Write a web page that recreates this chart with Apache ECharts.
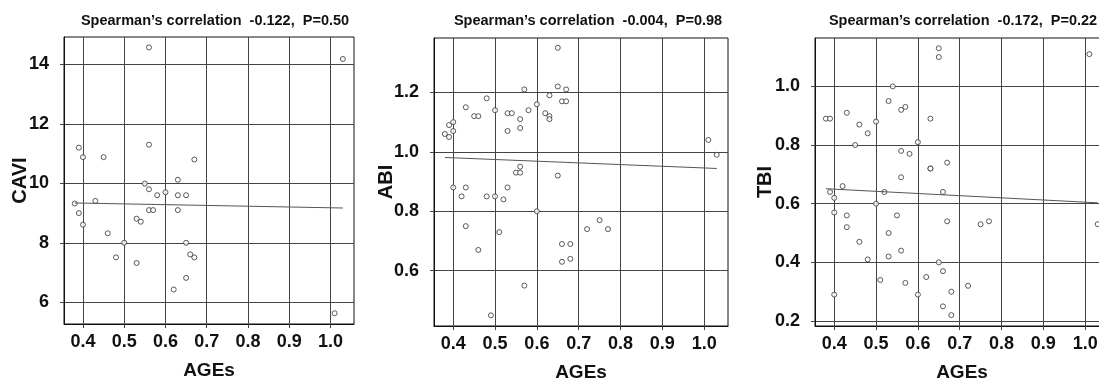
<!DOCTYPE html>
<html>
<head>
<meta charset="utf-8">
<script src="https://cdn.jsdelivr.net/npm/echarts@6/dist/echarts.min.js"></script>
<style>
  html, body { margin: 0; padding: 0; background: #fff; }
  #main { width: 1099px; height: 378px; }
</style>
</head>
<body>
<div id="main"></div>
<script>
// 三个面板的数据 (AGEs 与 CAVI / ABI / TBI)
var xTicks = [0.4, 0.5, 0.6, 0.7, 0.8, 0.9, 1.0];
var caviTicks = [6, 8, 10, 12, 14];
var abiTicks = [0.6, 0.8, 1.0, 1.2];
var tbiTicks = [0.2, 0.4, 0.6, 0.8, 1.0];

var titles = [
    "Spearman\u2019s correlation  -0.122,  P=0.50",
    "Spearman\u2019s correlation  -0.004,  P=0.98",
    "Spearman\u2019s correlation  -0.172,  P=0.22"
];
var yNames = ['CAVI', 'ABI', 'TBI'];

var cavi = [
    [0.56, 14.57], [1.03, 14.18], [0.39, 11.2], [0.40, 10.88], [0.45, 10.88],
    [0.56, 11.3], [0.67, 10.8], [0.55, 9.99], [0.56, 9.8], [0.58, 9.6],
    [0.60, 9.7], [0.63, 10.12], [0.63, 9.6], [0.65, 9.6], [0.38, 9.32],
    [0.43, 9.41], [0.39, 9.0], [0.40, 8.61], [0.56, 9.1], [0.57, 9.1],
    [0.63, 9.1], [0.53, 8.81], [0.54, 8.71], [0.46, 8.32], [0.50, 8.0],
    [0.65, 8.0], [0.48, 7.51], [0.53, 7.32], [0.66, 7.61], [0.67, 7.51],
    [0.65, 6.82], [0.62, 6.43], [1.01, 5.63]
];
var caviFit = [[0.38, 9.34], [1.03, 9.17]];

var abi = [
    [0.65, 1.35], [0.65, 1.22], [0.67, 1.21], [0.57, 1.21], [0.63, 1.19],
    [0.48, 1.18], [0.66, 1.17], [0.67, 1.17], [0.43, 1.15], [0.50, 1.14],
    [0.58, 1.14], [0.60, 1.16], [0.62, 1.13], [0.63, 1.12], [0.63, 1.11],
    [0.45, 1.12], [0.46, 1.12], [0.53, 1.13], [0.54, 1.13], [0.56, 1.11],
    [0.56, 1.08], [0.53, 1.07], [0.40, 1.10], [0.39, 1.09], [0.40, 1.07],
    [0.38, 1.06], [0.39, 1.05], [1.01, 1.04], [1.03, 0.99], [0.56, 0.95],
    [0.55, 0.93], [0.56, 0.93], [0.65, 0.92], [0.40, 0.88], [0.43, 0.88],
    [0.53, 0.88], [0.42, 0.85], [0.48, 0.85], [0.50, 0.85], [0.52, 0.84],
    [0.60, 0.80], [0.43, 0.75], [0.51, 0.73], [0.75, 0.77], [0.72, 0.74],
    [0.77, 0.74], [0.66, 0.69], [0.68, 0.69], [0.68, 0.64], [0.66, 0.63],
    [0.46, 0.67], [0.57, 0.55], [0.49, 0.45]
];
var abiFit = [[0.38, 0.981], [1.03, 0.944]];

var tbi = [
    [0.65, 1.13], [0.65, 1.10], [1.01, 1.11], [0.54, 1.00], [0.53, 0.95],
    [0.56, 0.92], [0.57, 0.93], [0.63, 0.89], [0.38, 0.89], [0.39, 0.89],
    [0.43, 0.91], [0.46, 0.87], [0.50, 0.88], [0.48, 0.84], [0.45, 0.80],
    [0.60, 0.81], [0.56, 0.78], [0.58, 0.77], [0.67, 0.74], [0.63, 0.72],
    [0.63, 0.72], [0.56, 0.69], [0.42, 0.66], [0.39, 0.64], [0.52, 0.64],
    [0.66, 0.64], [0.40, 0.62], [0.50, 0.60], [0.40, 0.57], [0.43, 0.56],
    [0.55, 0.56], [0.43, 0.52], [0.67, 0.54], [0.75, 0.53], [0.77, 0.54],
    [1.03, 0.53], [0.53, 0.50], [0.46, 0.47], [0.56, 0.44], [0.53, 0.42],
    [0.48, 0.41], [0.65, 0.40], [0.66, 0.37], [0.51, 0.34], [0.62, 0.35],
    [0.57, 0.33], [0.72, 0.32], [0.40, 0.29], [0.60, 0.29], [0.68, 0.30],
    [0.66, 0.25], [0.68, 0.22]
];
var tbiFit = [[0.38, 0.651], [1.03, 0.603]];

var font = '"Liberation Sans", Arial, sans-serif';
var gridColor = '#444';

var grids = [
    {left: 64, right: 745, top: 37, bottom: 54},
    {left: 434, right: 371, top: 38, bottom: 52},
    {left: 815, right: -10, top: 38, bottom: 52}
];
var yRanges = [[5.27, 14.92], [0.414, 1.383], [0.183, 1.165]];
var yTickSets = [caviTicks, abiTicks, tbiTicks];
var yGaps = [34, 38, 40];

function makeX(i) {
    return {
        type: 'value',
        gridIndex: i,
        min: 0.354,
        max: 1.057,
        name: 'AGEs',
        nameLocation: 'middle',
        nameGap: 37,
        nameTextStyle: {fontFamily: font, fontWeight: 'bold', fontSize: 19, color: '#111'},
        axisLine: {show: true, lineStyle: {color: '#111', width: 1}},
        axisTick: {show: true, length: 4, customValues: xTicks, lineStyle: {color: gridColor}},
        axisLabel: {
            customValues: xTicks,
            fontFamily: font, fontWeight: 'bold', fontSize: 18, color: '#111', margin: 9,
            formatter: function (v) { return v.toFixed(1); }
        },
        splitLine: {show: true, lineStyle: {color: gridColor, width: 1}}
    };
}

function makeY(i) {
    return {
        type: 'value',
        gridIndex: i,
        min: yRanges[i][0],
        max: yRanges[i][1],
        name: yNames[i],
        nameLocation: 'middle',
        nameGap: yGaps[i],
        nameRotate: 90,
        nameMoveOverlap: false,
        nameTextStyle: {fontFamily: font, fontWeight: 'bold', fontSize: 20, color: '#111'},
        axisLine: {show: true, lineStyle: {color: '#111', width: 1}},
        axisTick: {show: true, length: 4, customValues: yTickSets[i], lineStyle: {color: gridColor}},
        axisLabel: {
            customValues: yTickSets[i],
            fontFamily: font, fontWeight: 'bold', fontSize: 18, color: '#111', margin: 15,
            formatter: function (v) { return i === 0 ? String(v) : v.toFixed(1); }
        },
        splitLine: {show: true, lineStyle: {color: gridColor, width: 1}}
    };
}

var scatterStyle = {color: '#fff', borderColor: '#333', borderWidth: 1};
var allData = [cavi, abi, tbi];
var allFit = [caviFit, abiFit, tbiFit];
var series = [];
for (let i = 0; i < 3; i++) {
    series.push({
        type: 'line',
        xAxisIndex: i, yAxisIndex: i,
        data: allFit[i],
        symbol: 'none',
        silent: true,
        lineStyle: {color: '#555', width: 1}
    });
    series.push({
        type: 'scatter',
        xAxisIndex: i, yAxisIndex: i,
        data: allData[i],
        symbol: 'circle',
        symbolSize: 5,
        itemStyle: scatterStyle
    });
}

var titleX = [215, 588, 963];
var graphics = titleX.map(function (x, i) {
    return {
        type: 'text',
        x: x, y: 21,
        style: {
            text: titles[i],
            font: 'bold 14.5px ' + font,
            fill: '#111',
            align: 'center',
            verticalAlign: 'middle'
        }
    };
});

var options = {
    animation: false,
    backgroundColor: '#fff',
    grid: grids.map(function (g) {
        return Object.assign({
            show: true, borderColor: '#111', borderWidth: 1, backgroundColor: 'transparent',
            containLabel: false, outerBoundsMode: 'none'
        }, g);
    }),
    xAxis: [makeX(0), makeX(1), makeX(2)],
    yAxis: [makeY(0), makeY(1), makeY(2)],
    series: series,
    graphic: graphics
};

var myChart = echarts.init(document.getElementById('main'));
myChart.setOption(options);
</script>
</body>
</html>
